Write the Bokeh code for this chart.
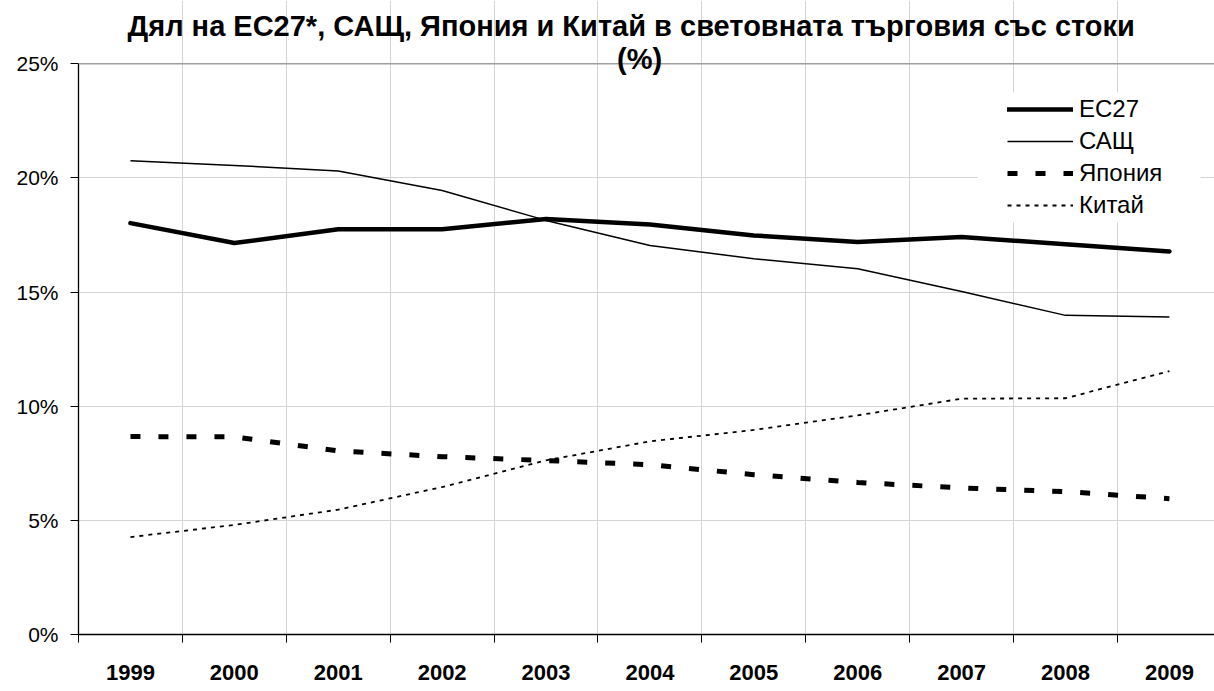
from bokeh.plotting import figure
from bokeh.models import (Range1d, FixedTicker, PrintfTickFormatter, Legend, LegendItem,
                          Label, Span, BoxAnnotation)
from bokeh.embed import file_html
from bokeh.resources import INLINE

years = ["1999", "2000", "2001", "2002", "2003", "2004", "2005", "2006", "2007", "2008", "2009"]
eu27 = [18.02, 17.15, 17.75, 17.75, 18.20, 17.96, 17.48, 17.19, 17.41, 17.10, 16.78]
usa = [20.75, 20.55, 20.30, 19.45, 18.14, 17.04, 16.46, 16.02, 15.03, 13.98, 13.91]
japan = [8.67, 8.66, 8.04, 7.79, 7.62, 7.44, 7.00, 6.66, 6.42, 6.26, 5.95]
china = [4.27, 4.80, 5.47, 6.46, 7.63, 8.46, 8.96, 9.60, 10.33, 10.35, 11.54]
series_names = ["ЕС27", "САЩ", "Япония", "Китай"]
y_ticks = [0, 5, 10, 15, 20, 25]
title_line1 = "Дял на ЕС27*, САЩ, Япония и Китай в световната търговия със стоки"
title_line2 = "(%)"

FONT = "Liberation Sans"
xs = list(range(len(years)))
centers = xs
bounds = [i - 0.5 for i in range(len(years) + 1)]

FRAME_H = 634
Y_TOP = 25 * FRAME_H / 570.7   # frame extends to canvas top; 25% at ~63px

p = figure(frame_width=1136, frame_height=FRAME_H, output_backend="svg", toolbar_location=None,
           x_range=Range1d(-0.5, 10.434), y_range=Range1d(0, Y_TOP),
           min_border_left=78, min_border_top=0, min_border_right=0, min_border_bottom=57)
p.outline_line_color = None
p.background_fill_color = "white"
p.border_fill_color = "white"

# grids
p.xgrid.ticker = FixedTicker(ticks=bounds)
p.ygrid.ticker = FixedTicker(ticks=y_ticks)
p.xgrid.bounds = (0, 25)
p.ygrid.bounds = (-0.5, 10.5)
p.xgrid.grid_line_color = "#d4d4d4"
p.ygrid.grid_line_color = "#d4d4d4"
p.xgrid.grid_line_width = 1
p.ygrid.grid_line_width = 1

# x axis
xa = p.xaxis[0]
xa.ticker = FixedTicker(ticks=centers, minor_ticks=bounds)
xa.major_label_overrides = {i: y for i, y in enumerate(years)}
xa.major_tick_line_color = None
xa.minor_tick_line_color = "black"
xa.minor_tick_out = 8
xa.minor_tick_in = 0
xa.axis_line_color = "black"
xa.axis_line_width = 1.3
xa.major_label_text_font = FONT
xa.major_label_text_font_style = "bold"
xa.major_label_text_font_size = "22px"
xa.major_label_text_color = "black"
xa.major_label_standoff = 22

# y axis
ya = p.yaxis[0]
ya.ticker = FixedTicker(ticks=y_ticks)
ya.bounds = (0, 25)
ya.formatter = PrintfTickFormatter(format="%d%%")
ya.major_tick_out = 8
ya.major_tick_in = 0
ya.minor_tick_line_color = None
ya.axis_line_color = "black"
ya.axis_line_width = 1.3
ya.major_label_text_font = FONT
ya.major_label_text_font_size = "21px"
ya.major_label_text_color = "black"
ya.major_label_standoff = 12

p.add_layout(Span(location=25, dimension="width", line_color="#a0a0a0", line_width=1.5))

# legend background
p.add_layout(BoxAnnotation(left=8.155, right=10.3, top=23.74, bottom=18.05,
                           fill_color="white", fill_alpha=1.0, line_color=None))

r_eu = p.line(xs, eu27, line_color="black", line_width=4.5, line_join="round", line_cap="round")
r_us = p.line(xs, usa, line_color="black", line_width=1.5)
r_jp = p.line(xs, japan, line_color="black", line_width=5, line_dash="10 18")
r_cn = p.line(xs, china, line_color="black", line_width=1.8, line_dash="4 5")

legend = Legend(items=[LegendItem(label=series_names[0], renderers=[r_eu]),
                       LegendItem(label=series_names[1], renderers=[r_us]),
                       LegendItem(label=series_names[2], renderers=[r_jp]),
                       LegendItem(label=series_names[3], renderers=[r_cn])],
                location=(929, 413), glyph_width=66, glyph_height=32, label_height=32,
                label_standoff=6, spacing=0, padding=0, margin=0,
                border_line_color=None, background_fill_alpha=0,
                label_text_font=FONT, label_text_font_size="24px", label_text_color="black")
p.add_layout(legend)

p.add_layout(Label(x=4.82, y=26.64, text=title_line1, text_align="center", text_baseline="alphabetic",
                   text_font=FONT, text_font_style="bold", text_font_size="29px", text_color="black"))
p.add_layout(Label(x=4.9, y=25.2, text=title_line2, text_align="center", text_baseline="alphabetic",
                   text_font=FONT, text_font_style="bold", text_font_size="29px", text_color="black"))

open("out.html", "w").write(file_html(p, INLINE))
